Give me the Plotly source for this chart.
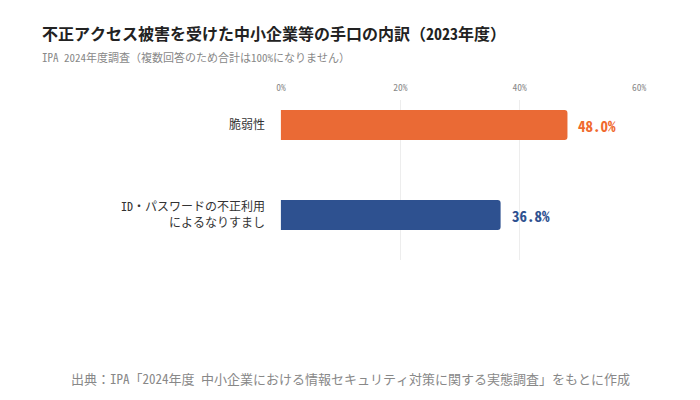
import plotly.graph_objects as go

# data
categories = ["脆弱性", "ID・パスワードの不正利用<br>によるなりすまし"]
values = [48.0, 36.8]
bar_colors = ["#EA6A35", "#2E5190"]
label_colors = ["#F06A2E", "#2E5190"]
tick_vals = [0, 20, 40, 60]
tick_text = ["0%", "20%", "40%", "60%"]

FONT = "Noto Sans Mono CJK JP, Noto Sans CJK JP, monospace"

# plot area in figure pixels (page adds 8px body margin)
L, T, W, H = 272, 92, 360, 160

fig = go.Figure(go.Bar(
    x=values,
    y=categories,
    orientation="h",
    marker=dict(color=bar_colors, line=dict(width=0)),
    width=0.333,
    hoverinfo="skip",
))

# value labels a little away from the bar ends
value_labels = [
    dict(x=v, y=c, xref="x", yref="y", text=f"<b>{v:.1f}%</b>",
         xanchor="left", yanchor="middle", xshift=9, showarrow=False,
         font=dict(family=FONT, size=15, color=col))
    for v, c, col in zip(values, categories, label_colors)
]

fig.update_layout(
    width=700,
    height=400,
    paper_bgcolor="white",
    plot_bgcolor="white",
    font=dict(family=FONT),
    margin=dict(l=L, r=700 - L - W, t=T, b=400 - T - H),
    barcornerradius=3,
    showlegend=False,
    xaxis=dict(
        side="top",
        range=[-0.15, 60.15],
        tickvals=tick_vals,
        ticktext=tick_text,
        tickfont=dict(size=9.5, color="#888888"),
        showgrid=True,
        gridcolor="#EDEDED",
        gridwidth=1,
        zeroline=False,
        showline=False,
        ticks="",
        ticklabelstandoff=6,
        fixedrange=True,
    ),
    yaxis=dict(
        range=[1.5, -0.278],
        tickfont=dict(size=12, color="#333333"),
        showgrid=False,
        zeroline=False,
        showline=False,
        ticks="",
        ticklabelstandoff=14,
        fixedrange=True,
    ),
    annotations=value_labels + [
        dict(text="<b>不正アクセス被害を受けた中小企業等の手口の内訳（2023年度）</b>",
             xref="paper", yref="paper", x=(32 - L) / W, y=1 + (T - 25) / H,
             xanchor="left", yanchor="middle", showarrow=False,
             font=dict(size=16, color="#222222", family=FONT)),
        dict(text="IPA 2024年度調査（複数回答のため合計は100%になりません）",
             xref="paper", yref="paper", x=(32 - L) / W, y=1 + (T - 49) / H,
             xanchor="left", yanchor="middle", showarrow=False,
             font=dict(size=11, color="#888888", family=FONT)),
        dict(text="出典：IPA「2024年度 中小企業における情報セキュリティ対策に関する実態調査」をもとに作成",
             xref="paper", yref="paper", x=(342 - L) / W, y=-(370 - T - H) / H,
             xanchor="center", yanchor="middle", showarrow=False,
             font=dict(size=13, color="#888888", family=FONT)),
    ],
)

fig.write_html("out.html")
